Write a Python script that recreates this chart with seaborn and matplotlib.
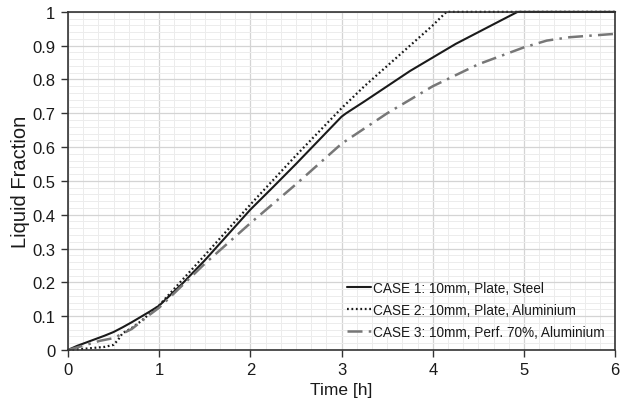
import seaborn as sns
import matplotlib.pyplot as plt
from matplotlib.ticker import MultipleLocator

sns.set_theme(style="white")
plt.rcParams['font.family'] = ['Liberation Sans', 'DejaVu Sans']

# CASE 1: 10mm, Plate, Steel
t1 = [0, 0.1, 0.2, 0.3, 0.4, 0.5, 0.6, 0.7, 0.8, 0.9, 1.0, 1.25, 1.5, 1.75, 2.0,
      2.25, 2.5, 2.75, 3.0, 3.05, 3.25, 3.5, 3.75, 4.0, 4.25, 4.5, 4.75, 4.93, 5.0, 5.5, 6.0]
v1 = [0, 0.012, 0.022, 0.032, 0.042, 0.053, 0.067, 0.082, 0.098, 0.114, 0.131, 0.195, 0.265, 0.34, 0.415,
      0.482, 0.55, 0.62, 0.69, 0.70, 0.735, 0.78, 0.825, 0.865, 0.905, 0.94, 0.975, 1.0, 1.0, 1.0, 1.0]

# CASE 2: 10mm, Plate, Aluminium
t2 = [0, 0.2, 0.4, 0.5, 0.55, 0.6, 0.7, 0.8, 0.9, 1.0, 1.5, 2.0, 2.5, 3.0,
      3.25, 3.5, 3.75, 4.0, 4.15, 5.0, 6.0]
v2 = [0, 0.004, 0.009, 0.015, 0.03, 0.05, 0.065, 0.085, 0.108, 0.132, 0.28, 0.43, 0.575, 0.715,
      0.78, 0.84, 0.9, 0.96, 1.0, 1.0, 1.0]

# CASE 3: 10mm, Perf. 70%, Aluminium
t3 = [0, 0.2, 0.35, 0.5, 0.7, 0.9, 1.0, 1.5, 2.0, 2.5, 3.0, 3.5, 4.0, 4.5,
      5.0, 5.25, 5.5, 5.75, 6.0]
v3 = [0, 0.015, 0.027, 0.035, 0.062, 0.105, 0.125, 0.255, 0.375, 0.49, 0.61, 0.70, 0.78, 0.845,
      0.895, 0.915, 0.925, 0.93, 0.935]

labels = ["CASE 1: 10mm, Plate, Steel",
          "CASE 2: 10mm, Plate, Aluminium",
          "CASE 3: 10mm, Perf. 70%, Aluminium"]

fig = plt.figure(figsize=(6.29, 4.02), dpi=100)
ax = fig.add_axes([0.108, 0.127, 0.870, 0.841])

sns.lineplot(x=t1, y=v1, ax=ax, color="#1a1a1a", lw=1.5, label=labels[0], clip_on=False)
sns.lineplot(x=t2, y=v2, ax=ax, color="#1a1a1a", lw=1.6, ls=(0, (0.8, 1.2)), label=labels[1], clip_on=False)
sns.lineplot(x=t3, y=v3, ax=ax, color="#777777", lw=1.8, ls=(0, (6, 2.5, 1, 2.5)), label=labels[2], clip_on=False)

ax.set_xlim(0, 6)
ax.set_ylim(0, 1)
ax.xaxis.set_major_locator(MultipleLocator(1))
ax.xaxis.set_minor_locator(MultipleLocator(1 / 6))
ax.yaxis.set_major_locator(MultipleLocator(0.1))
ax.yaxis.set_minor_locator(MultipleLocator(0.02))
ax.yaxis.set_major_formatter(plt.FuncFormatter(lambda v, p: f"{v:g}"))
ax.grid(which="major", color="#d4d4d4", lw=0.9)
ax.grid(which="minor", color="#ececec", lw=0.7)
ax.set_axisbelow(True)

for s in ax.spines.values():
    s.set_color("#333333")
    s.set_linewidth(1.2)
ax.tick_params(which="major", direction="out", length=5, width=1, color="#333333",
               left=True, bottom=True, labelsize=12, labelcolor="#1a1a1a", pad=4)
ax.tick_params(which="minor", length=0)

ax.set_xlabel("Time [h]", fontsize=12.5, color="#1a1a1a", labelpad=3)
ax.set_ylabel("Liquid Fraction", fontsize=14.5, color="#1a1a1a", labelpad=2)

ax.legend(loc="lower right", frameon=False, fontsize=9.8, handlelength=1.75,
          handletextpad=0.15, labelspacing=0.6, borderaxespad=0.4, labelcolor="#1a1a1a")

fig.savefig("out.png", dpi=100)
plt.close()
